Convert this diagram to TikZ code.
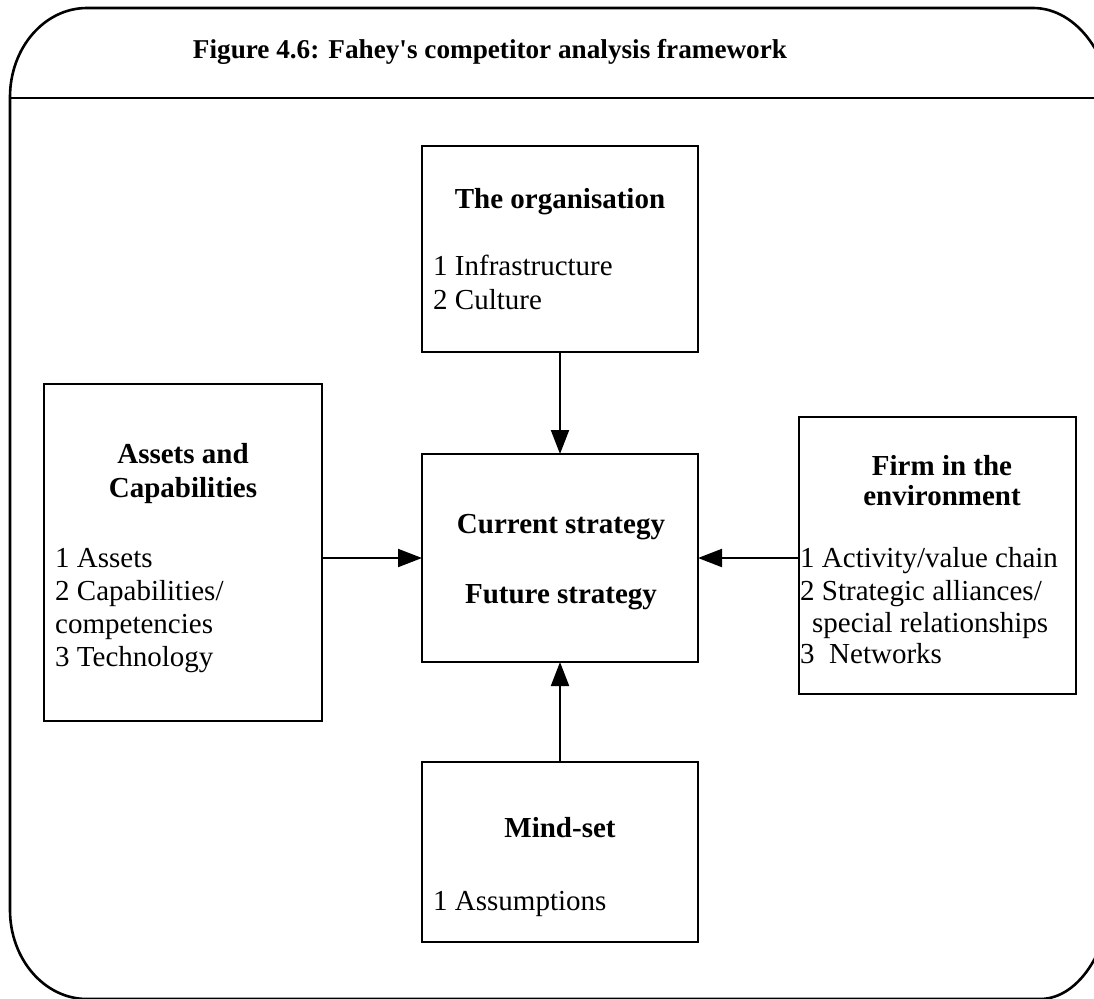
\documentclass[tikz,border=0pt]{standalone}
\usepackage{fontspec}
\setmainfont{Liberation Serif}
\newfontfamily\plainserif{Liberation Serif}
\usetikzlibrary{arrows.meta}

\begin{document}
\begin{tikzpicture}[x=1pt,y=-1pt,
  frame/.style={line width=2.6pt},
  box/.style={draw, line width=2.4pt, inner sep=0pt, outer sep=0pt, anchor=north west},
  head/.style={anchor=base, inner sep=0pt, font=\fontsize{29}{33}\selectfont\bfseries},
  item/.style={anchor=base west, inner sep=0pt, font=\fontsize{29}{33}\selectfont},
  link/.style={line width=2pt, -{Triangle[length=24pt,width=18pt]}},
]
\useasboundingbox (0,0) rectangle (1094,998);
\clip (0,0) rectangle (1094,998);

% outer frame with rounded corners and title band
\draw[frame] (10,910) -- (10,97)
  arc[start angle=180, end angle=270, x radius=77, y radius=89]
  -- (1033,8)
  arc[start angle=270, end angle=360, x radius=80, y radius=110]
  -- (1113,880)
  arc[start angle=0, end angle=90, x radius=73, y radius=119]
  -- (87,999)
  arc[start angle=90, end angle=180, x radius=77, y radius=89]
  -- cycle;
\draw[frame] (10,98) -- (1113,98);

\node[anchor=base, inner sep=0pt] (title) at (490,59)
  {\plainserif\fontsize{27.2}{30}\selectfont\bfseries Figure 4.6: Fahey's competitor analysis framework};

% boxes
\node[box, minimum width=276pt, minimum height=206pt] (org) at (422,146) {};
\node[box, minimum width=276pt, minimum height=208pt] (ctr) at (422,454) {};
\node[box, minimum width=278pt, minimum height=337pt] (assets) at (44,384) {};
\node[box, minimum width=277pt, minimum height=277pt] (firm) at (799,417) {};
\node[box, minimum width=276pt, minimum height=180pt] (mind) at (422,762) {};

% the organisation
\node[head] (orgh) at (560,208) {The organisation};
\node[item] (org1) at (433,275) {1 Infrastructure};
\node[item] (org2) at (433,309) {2 Culture};

% strategy
\node[head] (cur) at (561,533) {Current strategy};
\node[head] (fut) at (561,603) {Future strategy};

% assets and capabilities
\node[head] (ash1) at (183,463) {Assets and};
\node[head] (ash2) at (183,497) {Capabilities};
\node[item] (as1) at (55,567) {1 Assets};
\node[item] (as2) at (55,600) {2 Capabilities/};
\node[item] (as3) at (55,633) {competencies};
\node[item] (as4) at (55,666) {3 Technology};

% firm in the environment
\node[head] (fh1) at (942,475) {Firm in the};
\node[head] (fh2) at (942,505) {environment};
\node[item] (f1) at (800,567) {1 Activity/value chain};
\node[item] (f2) at (800,600) {2 Strategic alliances/};
\node[item] (f3) at (812,632) {special relationships};
\node[item] (f4) at (800,663) {3\hspace{0.5em}Networks};

% mind-set
\node[head] (mh) at (560,837) {Mind-set};
\node[item] (m1) at (433,910) {1 Assumptions};

% connectors
\draw[link] (org.south) -- (ctr.north);
\draw[link] (mind.north) -- (ctr.south);
\draw[link] (assets.east |- ctr.west) -- (ctr.west);
\draw[link] (firm.west |- ctr.east) -- (ctr.east);
\end{tikzpicture}
\end{document}
